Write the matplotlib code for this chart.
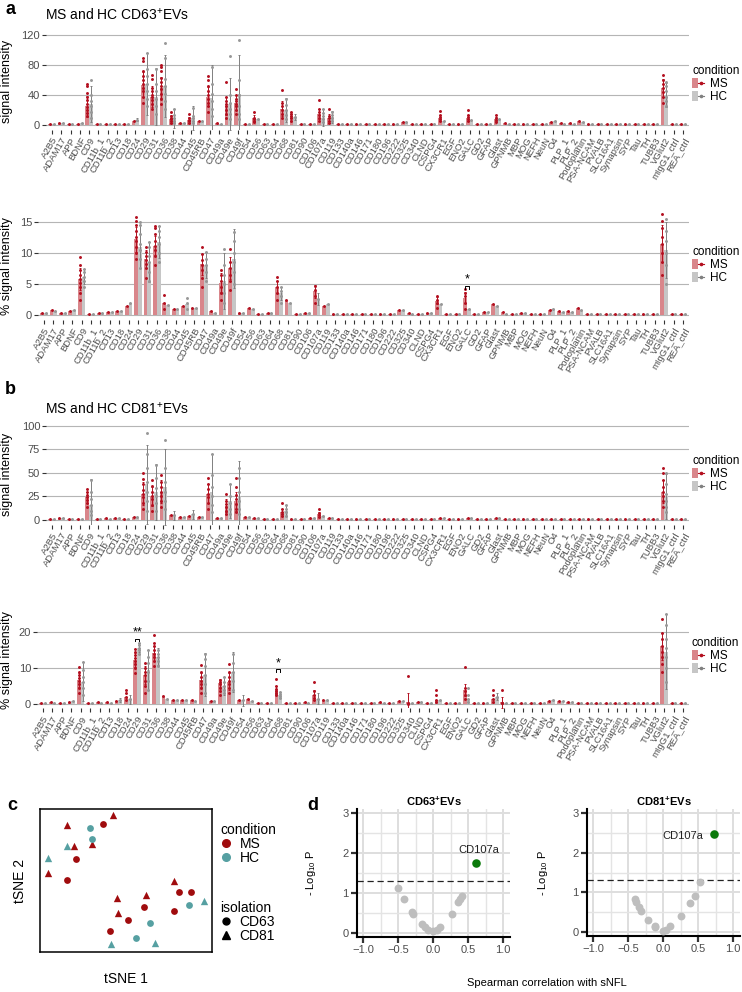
import numpy as np
import matplotlib
matplotlib.use("Agg")
import matplotlib.pyplot as plt
from matplotlib.patches import Patch
from matplotlib.lines import Line2D
from matplotlib.legend_handler import HandlerTuple
from matplotlib.ticker import MultipleLocator

plt.rcParams['font.family'] = ['Liberation Sans', 'DejaVu Sans']
plt.rcParams['mathtext.fontset'] = 'custom'
plt.rcParams['mathtext.rm'] = 'Liberation Sans'
plt.rcParams['mathtext.it'] = 'Liberation Sans:italic'
plt.rcParams['mathtext.bf'] = 'Liberation Sans:bold'

W, H = 742, 992

# ---------------- data ----------------
markers = ["A2B5", "ADAM17", "APP", "BDNF", "CD9", "CD11b_1", "CD11b_2", "CD13", "CD18", "CD24",
           "CD29", "CD31", "CD36", "CD38", "CD44", "CD45", "CD45RB", "CD47", "CD49a", "CD49e",
           "CD49f", "CD54", "CD56", "CD63", "CD64", "CD68", "CD81", "CD90", "CD106", "CD107a",
           "CD119", "CD133", "CD140a", "CD146", "CD171", "CD180", "CD196", "CD222", "CD325", "CD340",
           "CLND", "CSPG4", "CX3CR1", "EGF", "ENO2", "GALC", "GD2", "GFAP", "Glast", "GPNMB",
           "MBP", "MOG", "NEFH", "NeuN", "O4", "PLP_1", "PLP_2", "Podoplanin", "PSA-NCAM", "PVALB",
           "SLC16A1", "Synapsin", "SYP", "Tau", "TH", "TUBB3", "VGlut2", "mIgG1_ctrl", "REA_ctrl"]

# panel a, CD63+ EVs, signal intensity
a1_ms = [1, 3, 1, 2, 25, 1, 1, 2, 1, 5,
         54, 38, 50, 8, 3, 7, 5, 38, 3, 25,
         30, 1, 9, 1, 2, 22, 12, 1, 2, 15,
         9, 1, 1, 1, 1, 1, 1, 1, 4, 2,
         1, 2, 10, 1, 1, 10, 1, 2, 8, 3,
         1, 2, 1, 1, 4, 3, 3, 6, 1, 1,
         1, 1, 1, 1, 1, 1, 50, 1, 1]
a1_hc = [1, 3, 1, 3, 28, 1, 1, 2, 1, 7,
         55, 38, 52, 9, 3, 9, 5, 36, 1, 28,
         42, 1, 8, 1, 2, 20, 11, 1, 2, 10,
         11, 1, 1, 1, 1, 1, 1, 1, 4, 1,
         1, 2, 6, 1, 1, 7, 1, 2, 8, 1,
         1, 2, 1, 1, 6, 2, 2, 4, 1, 1,
         1, 1, 1, 1, 1, 1, 40, 1, 1]
a1_ms_sd = {"CD9": 14, "CD29": 17, "CD31": 14, "CD36": 14, "CD38": 5, "CD45": 4, "CD47": 13,
            "CD49e": 12, "CD49f": 10, "CD56": 4, "CD68": 10, "CD81": 3, "CD107a": 7, "CD119": 6,
            "CX3CR1": 4, "GALC": 4, "Glast": 3, "VGlut2": 12}
a1_hc_sd = {"CD9": 24, "CD24": 2, "CD29": 41, "CD31": 38, "CD36": 41, "CD38": 13, "CD45": 16,
            "CD47": 44, "CD49e": 35, "CD49f": 52, "CD68": 16, "CD81": 4, "CD107a": 11,
            "CD119": 8, "VGlut2": 16}
a1_ms_dots = {"CD9": [12, 16, 20, 24, 28, 33, 38, 43, 52, 55],
              "CD29": [30, 38, 45, 50, 55, 60, 66, 72, 85, 89],
              "CD31": [22, 28, 33, 37, 40, 45, 50, 62, 67],
              "CD36": [28, 35, 42, 48, 52, 58, 63, 72, 78, 80],
              "CD38": [3, 5, 8, 10, 12, 18],
              "CD45": [3, 5, 7, 10, 15],
              "CD47": [18, 25, 30, 35, 40, 45, 52, 60, 65],
              "CD49e": [10, 15, 20, 25, 28, 32, 38, 57],
              "CD49f": [15, 20, 25, 28, 32, 35, 40, 48],
              "CD56": [4, 6, 8, 10, 18],
              "CD68": [10, 15, 20, 25, 30, 47],
              "CD81": [6, 9, 12, 15, 17],
              "CD107a": [6, 10, 14, 18, 22, 33],
              "CD119": [3, 6, 9, 12, 22],
              "CX3CR1": [5, 8, 11, 14, 19],
              "GALC": [5, 8, 11, 14, 20],
              "Glast": [4, 7, 10, 13],
              "VGlut2": [30, 38, 44, 50, 55, 60, 67]}
a1_hc_dots = {"CD9": [10, 18, 25, 32, 40, 60],
              "CD29": [25, 35, 45, 55, 65, 75, 96],
              "CD31": [15, 25, 35, 45, 55, 75],
              "CD36": [22, 32, 42, 52, 62, 90, 109],
              "CD38": [3, 6, 9, 13, 22],
              "CD45": [3, 6, 9, 12, 23],
              "CD47": [12, 22, 32, 42, 55, 78],
              "CD49e": [8, 15, 22, 30, 40, 92],
              "CD49f": [8, 15, 25, 40, 60, 114],
              "CD68": [8, 14, 20, 27, 35],
              "CD107a": [4, 8, 12, 16, 22],
              "CD119": [5, 9, 13, 18],
              "VGlut2": [25, 32, 38, 45, 52, 58]}

# panel a, CD63+ EVs, % signal intensity
a2_ms = [0.3, 0.8, 0.4, 0.6, 5.8, 0.2, 0.3, 0.5, 0.6, 1.5,
         12.2, 9.0, 11.2, 2.0, 1.0, 1.5, 1.2, 8.2, 0.6, 5.2,
         7.6, 0.4, 1.2, 0.2, 0.3, 4.5, 2.4, 0.2, 0.4, 3.8,
         1.5, 0.2, 0.2, 0.2, 0.2, 0.2, 0.2, 0.2, 0.8, 0.3,
         0.2, 0.4, 2.3, 0.2, 0.2, 2.8, 0.2, 0.5, 1.8, 0.5,
         0.2, 0.4, 0.2, 0.2, 0.8, 0.7, 0.6, 1.1, 0.2, 0.1,
         0.1, 0.2, 0.1, 0.1, 0.1, 0.1, 11.5, 0.1, 0.1]
a2_hc = [0.3, 0.7, 0.4, 0.8, 6.2, 0.2, 0.3, 0.5, 0.6, 2.0,
         11.0, 8.6, 11.8, 1.6, 1.0, 1.8, 1.2, 8.0, 0.4, 5.5,
         9.1, 0.4, 1.0, 0.2, 0.3, 3.5, 2.0, 0.2, 0.4, 2.6,
         1.8, 0.2, 0.2, 0.2, 0.2, 0.2, 0.2, 0.2, 0.8, 0.2,
         0.2, 0.4, 1.8, 0.2, 0.2, 0.9, 0.2, 0.5, 1.5, 0.2,
         0.2, 0.4, 0.2, 0.2, 0.9, 0.5, 0.5, 0.8, 0.2, 0.1,
         0.1, 0.2, 0.1, 0.1, 0.1, 0.1, 10.5, 0.1, 0.1]
a2_ms_sd = {"CD9": 1.8, "CD29": 2.0, "CD31": 1.5, "CD36": 1.6, "CD47": 1.7, "CD49e": 1.5,
            "CD49f": 1.8, "CD68": 1.0, "CD107a": 1.0, "GALC": 0.9, "CX3CR1": 0.6, "VGlut2": 3.0}
a2_hc_sd = {"CD9": 1.2, "CD29": 3.5, "CD31": 3.2, "CD36": 2.6, "CD47": 2.1, "CD49e": 4.5,
            "CD49f": 4.7, "CD68": 1.0, "CD107a": 1.0, "VGlut2": 4.5}
a2_ms_dots = {"CD9": [2.5, 3.5, 4.5, 5.2, 5.8, 6.5, 7.2, 8.0, 9.3],
              "CD29": [9.0, 10.0, 11.0, 12.0, 12.5, 13.5, 14.5, 15.2, 15.8],
              "CD31": [6.0, 7.5, 8.2, 8.8, 9.5, 10.2, 11.0],
              "CD36": [8.0, 9.5, 10.5, 11.2, 12.0, 13.0, 14.0, 14.4],
              "CD38": [1.0, 2.0, 3.3],
              "CD47": [4.5, 6.0, 7.2, 8.0, 8.8, 9.8, 10.9],
              "CD49e": [2.5, 3.5, 4.5, 5.5, 6.5, 7.3],
              "CD49f": [4.0, 5.5, 6.5, 7.5, 8.5, 10.6],
              "CD68": [2.5, 3.5, 4.5, 5.5, 6.2],
              "CD107a": [2.0, 3.0, 4.0, 4.6],
              "CX3CR1": [1.2, 2.0, 2.5, 3.0],
              "GALC": [1.0, 2.0, 3.0, 3.6, 4.2],
              "VGlut2": [6.5, 8.5, 10.0, 11.5, 12.5, 14.0, 15.2, 16.2]}
a2_hc_dots = {"CD9": [4.5, 5.5, 6.2, 7.0, 7.4],
              "CD29": [7.5, 9.0, 10.5, 11.5, 13.0, 14.5, 15.0],
              "CD31": [5.5, 7.0, 8.5, 9.5, 11.0, 11.8],
              "CD36": [8.5, 10.0, 11.5, 12.5, 13.5, 14.4],
              "CD45": [1.0, 2.0, 2.7],
              "CD47": [5.5, 7.0, 8.0, 9.0, 10.1],
              "CD49e": [2.0, 3.5, 5.0, 6.5, 8.0, 10.6],
              "CD49f": [5.0, 7.0, 8.5, 10.0, 12.0, 13.4],
              "CD68": [2.0, 3.0, 3.8, 4.5],
              "VGlut2": [5.0, 8.0, 10.0, 12.0, 13.5, 15.5]}
a2_sig = [("GALC", "*", 4.7)]

# panel b, CD81+ EVs, signal intensity
b1_ms = [1, 2, 1, 1, 24, 1, 2, 2, 1, 3,
         28, 25, 30, 5, 3, 4, 3, 28, 2, 15,
         20, 3, 2, 1, 1, 8, 1, 1, 2, 6,
         2, 1, 1, 1, 1, 1, 1, 1, 1, 1,
         1, 1, 2, 1, 1, 2, 1, 1, 2, 1,
         1, 1, 1, 1, 1, 1, 1, 1, 1, 1,
         1, 1, 1, 1, 1, 1, 30, 1, 1]
b1_hc = [1, 2, 1, 1, 16, 1, 1, 2, 1, 3,
         38, 30, 35, 5, 3, 6, 3, 30, 2, 20,
         25, 3, 2, 1, 1, 10, 1, 1, 2, 4,
         2, 1, 1, 1, 1, 1, 1, 1, 1, 1,
         1, 1, 2, 1, 1, 2, 1, 1, 2, 1,
         1, 1, 1, 1, 1, 1, 1, 1, 1, 1,
         1, 1, 1, 1, 1, 1, 25, 1, 1]
b1_ms_sd = {"CD9": 6, "CD29": 12, "CD31": 10, "CD36": 12, "CD47": 10, "CD49e": 7, "CD49f": 10,
            "CD68": 4, "CD107a": 3, "VGlut2": 12}
b1_hc_sd = {"CD9": 28, "CD29": 42, "CD31": 30, "CD36": 40, "CD38": 5, "CD45": 5, "CD47": 40,
            "CD49e": 18, "CD49f": 38, "CD68": 6, "VGlut2": 24}
b1_ms_dots = {"CD9": [14, 18, 21, 24, 27, 30, 33],
              "CD29": [12, 18, 24, 28, 32, 38, 44, 50],
              "CD31": [10, 16, 22, 26, 30, 36, 42],
              "CD36": [14, 20, 26, 30, 35, 40, 48],
              "CD47": [12, 18, 24, 28, 33, 38, 45],
              "CD49e": [6, 10, 14, 17, 20, 28],
              "CD49f": [8, 12, 17, 22, 27, 35, 45],
              "CD68": [4, 6, 9, 12, 18],
              "CD107a": [3, 5, 7, 12],
              "VGlut2": [14, 20, 26, 30, 35, 42, 50, 55]}
b1_hc_dots = {"CD9": [5, 10, 16, 22, 30, 42],
              "CD29": [10, 20, 30, 40, 55, 70, 92],
              "CD31": [10, 18, 26, 34, 45, 58],
              "CD36": [12, 20, 30, 40, 55, 85],
              "CD47": [8, 16, 25, 35, 48, 70],
              "CD49e": [6, 12, 18, 25, 38],
              "CD49f": [6, 12, 20, 30, 45, 55],
              "CD68": [4, 8, 12, 16],
              "VGlut2": [8, 14, 20, 28, 38, 50]}

# panel b, CD81+ EVs, % signal intensity
b2_ms = [0.2, 0.5, 0.3, 0.5, 6.7, 0.2, 0.5, 0.6, 0.8, 2.0,
         12.3, 8.1, 14.1, 2.2, 1.2, 1.2, 1.0, 6.7, 0.8, 5.8,
         6.2, 1.0, 1.5, 0.3, 0.3, 3.9, 0.2, 0.2, 0.5, 2.5,
         1.0, 0.2, 0.2, 0.2, 0.2, 0.2, 0.5, 0.2, 0.8, 0.5,
         0.5, 0.3, 1.2, 0.2, 0.2, 3.9, 0.2, 0.4, 1.5, 0.5,
         0.2, 0.3, 0.2, 0.2, 0.8, 0.8, 0.6, 0.3, 0.3, 0.2,
         0.2, 0.2, 0.2, 0.2, 0.2, 0.2, 16.0, 0.2, 0.2]
b2_hc = [0.2, 0.4, 0.3, 0.7, 6.2, 0.2, 0.3, 0.4, 1.2, 1.3,
         15.7, 9.5, 13.2, 1.5, 1.2, 1.2, 0.8, 8.1, 0.8, 5.0,
         9.0, 1.0, 0.8, 0.3, 0.3, 2.5, 0.2, 0.2, 0.4, 1.5,
         1.2, 0.2, 0.2, 0.2, 0.2, 0.2, 0.4, 0.2, 0.8, 0.2,
         0.5, 0.4, 1.0, 0.2, 0.2, 1.5, 0.2, 0.4, 2.0, 0.2,
         0.2, 0.3, 0.2, 0.2, 1.0, 0.8, 0.5, 0.3, 0.3, 0.2,
         0.2, 0.2, 0.2, 0.2, 0.2, 0.2, 14.6, 0.2, 0.2]
b2_ms_sd = {"CD9": 2.0, "CD29": 2.0, "CD31": 2.5, "CD36": 2.0, "CD47": 2.0, "CD49e": 1.2,
            "CD49f": 2.3, "CD68": 1.2, "CD107a": 1.5, "CD340": 2.5, "GALC": 1.7, "GPNMB": 1.5,
            "VGlut2": 3.7}
b2_hc_sd = {"CD9": 5.5, "CD18": 0.6, "CD24": 1.2, "CD29": 1.3, "CD31": 5.5, "CD36": 2.3,
            "CD47": 6.0, "CD49e": 2.6, "CD49f": 5.6, "CD54": 1.5, "CD68": 0.8, "CD107a": 1.5,
            "Glast": 1.0, "VGlut2": 10.4}
b2_ms_dots = {"CD9": [3.0, 4.5, 5.5, 6.5, 7.2, 8.0, 9.0, 10.4],
              "CD24": [1.0, 2.0, 3.0, 4.0],
              "CD29": [8.5, 10.0, 11.0, 12.0, 12.8, 13.5, 14.5, 15.3],
              "CD31": [3.0, 5.0, 6.5, 8.0, 9.0, 10.0, 11.3],
              "CD36": [10.5, 12.0, 13.0, 14.0, 15.0, 16.0, 17.0, 19.2],
              "CD47": [3.0, 4.5, 5.5, 6.5, 7.5, 9.0, 10.9],
              "CD49e": [2.5, 3.5, 4.5, 5.5, 6.2, 6.8],
              "CD49f": [3.0, 4.5, 5.5, 6.5, 7.5, 9.0, 11.0],
              "CD68": [2.5, 3.0, 3.5, 4.2, 5.0, 7.0],
              "CD107a": [1.0, 1.8, 2.5, 3.5, 6.2],
              "CD340": [0.1, 0.2, 7.8],
              "CX3CR1": [0.5, 1.2, 2.5, 3.9],
              "GALC": [1.5, 2.5, 3.5, 4.5, 10.4],
              "Glast": [0.5, 1.5, 2.5, 3.9],
              "GPNMB": [0.2, 0.4, 3.9],
              "VGlut2": [9.0, 11.0, 13.0, 14.5, 16.0, 18.0, 19.7, 23.7]}
b2_hc_dots = {"CD9": [2.5, 4.5, 6.0, 7.5, 9.5, 11.8],
              "CD29": [14.0, 15.0, 15.7, 16.3, 17.0],
              "CD31": [4.0, 6.5, 9.0, 11.5, 13.0, 15.0],
              "CD36": [10.5, 12.0, 13.0, 14.0, 15.0],
              "CD47": [3.0, 5.5, 8.0, 10.5, 12.5, 14.0],
              "CD49e": [3.0, 4.0, 5.0, 6.0, 7.5],
              "CD49f": [4.0, 6.5, 9.0, 11.5, 14.0],
              "CD68": [1.8, 2.2, 2.8, 3.2],
              "GALC": [0.5, 1.5, 2.5, 4.4],
              "VGlut2": [6.0, 10.0, 13.0, 15.5, 18.0, 22.0, 25.0]}
b2_sig = [("CD29", "**", 18.2), ("CD68", "*", 9.6)]

# panel c, tSNE
tsne_ms_cd63_x = [-3.35, -7.45, -8.85, 8.0, 9.75, 2.65, 7.15, 0.25, -2.35]
tsne_ms_cd63_y = [8.5, 3.25, 0.1, -1.7, -1.7, -3.9, -4.55, -5.9, -7.55]
tsne_ms_cd81_x = [-8.85, -1.85, -7.75, -5.1, -11.6, 7.15, -1.25, 3.0, -1.1]
tsne_ms_cd81_y = [8.35, 9.85, 5.2, 5.45, 1.2, -0.05, -2.65, -2.15, -4.9]
tsne_hc_cd63_x = [-5.35, -5.0, 9.4, 3.6, 1.5]
tsne_hc_cd63_y = [7.85, 6.25, -3.65, -6.35, -8.6]
tsne_hc_cd81_x = [-8.85, -11.7, 11.75, -2.2, 4.3]
tsne_hc_cd81_y = [5.2, 3.45, -3.05, -9.4, -9.25]

# panel d, correlation with sNFL
d63_r = [-0.50, -0.41, -0.30, -0.28, -0.16, -0.11, -0.07, 0.00, 0.05, 0.10, 0.27, 0.36, 0.39, 0.42]
d63_p = [1.12, 0.84, 0.52, 0.48, 0.22, 0.16, 0.08, 0.04, 0.08, 0.16, 0.47, 0.78, 0.86, 0.92]
d81_r = [-0.40, -0.38, -0.34, -0.31, -0.21, -0.12, -0.11, 0.00, 0.04, 0.10, 0.25, 0.39, 0.45, 0.53]
d81_p = [0.84, 0.76, 0.64, 0.53, 0.31, 0.16, 0.13, 0.02, 0.06, 0.16, 0.41, 0.73, 0.92, 1.26]
d63_hit = ("CD107a", 0.61, 1.74)
d81_hit = ("CD107a", 0.73, 2.47)
p_cut = -np.log10(0.05)

# ---------------- style ----------------
MS_BAR = "#D9868B"
HC_BAR = "#C6C6C6"
MS_DOT = "#B30F1F"
HC_DOT = "#979797"
MS_ERR = "#B30F1F"
HC_ERR = "#808080"
MS_PT = "#A00C0E"
HC_PT = "#56A0A2"
TXT = "#4D4D4D"

fig = plt.figure(figsize=(W / 100, H / 100), dpi=100)


def px_axes(l, t, r, b):
    return fig.add_axes([l / W, 1 - b / H, (r - l) / W, (b - t) / H])


def bar_panel(box, ylim, yticks, ylabel, ms_mean, hc_mean, ms_sd, hc_sd,
              ms_dots, hc_dots, leg_top, sig=()):
    l, t, r, b = box
    ax = px_axes(l, t, r, b)
    x = np.arange(len(markers))
    ax.bar(x - 0.2, ms_mean, width=0.4, color=MS_BAR, zorder=2)
    ax.bar(x + 0.2, hc_mean, width=0.4, color=HC_BAR, zorder=2)
    for i, m in enumerate(markers):
        for off, mean, sd, dots, dc, ec in ((-0.2, ms_mean[i], ms_sd, ms_dots, MS_DOT, MS_ERR),
                                            (0.2, hc_mean[i], hc_sd, hc_dots, HC_DOT, HC_ERR)):
            if m in sd:
                ax.errorbar(i + off, mean, yerr=sd[m], fmt='none', ecolor=ec,
                            elinewidth=0.7, capsize=1.0, capthick=0.7, zorder=3)
            pts = dots.get(m, [mean])
            ax.scatter([i + off] * len(pts), pts, s=4.5, color=dc, lw=0, zorder=4)
    # significance brackets
    for m, lab, yb in sig:
        i = markers.index(m)
        hgt = (ylim[1] - ylim[0]) * 0.025
        ax.plot([i - 0.2, i - 0.2, i + 0.2, i + 0.2], [yb - hgt, yb, yb, yb - hgt],
                color="black", lw=0.7, zorder=5)
        ax.text(i, yb + hgt * 0.2, lab, ha='center', va='bottom', fontsize=9, zorder=5)
    ax.set_xlim(-0.6, len(markers) - 0.4)
    ax.set_ylim(*ylim)
    ax.set_yticks(yticks)
    ax.set_xticks(x)
    ax.set_xticklabels(markers, rotation=60, ha='right', va='top', rotation_mode='anchor',
                       fontsize=6.8, color=TXT)
    ax.tick_params(axis='x', length=3, width=0.8, color='#333333', pad=1.5)
    ax.tick_params(axis='y', length=3, width=0.8, color='#333333', labelsize=8,
                   labelcolor=TXT, pad=1.5)
    for s in ax.spines.values():
        s.set_visible(False)
    ax.grid(axis='y', color='#B5B5B5', lw=0.8)
    ax.set_axisbelow(True)
    ax.set_ylabel(ylabel, fontsize=9)
    ax.yaxis.set_label_coords((13 - l) / (r - l), 0.5)
    h_ms = (Patch(facecolor=MS_BAR, edgecolor='none'),
            Line2D([], [], color=MS_ERR, lw=0.8, marker='o', ms=1.6))
    h_hc = (Patch(facecolor=HC_BAR, edgecolor='none'),
            Line2D([], [], color=HC_ERR, lw=0.8, marker='o', ms=1.6))
    leg = ax.legend([h_ms, h_hc], ["MS", "HC"], title="condition",
                    handler_map={tuple: HandlerTuple(ndivide=None, pad=0)},
                    loc='upper left', bbox_to_anchor=((692 - l) / (r - l), (b - leg_top) / (b - t)),
                    frameon=False, fontsize=8.5, title_fontsize=8.5, handlelength=1.0,
                    handleheight=0.9, handletextpad=0.5, labelspacing=0.1,
                    borderaxespad=0, borderpad=0)
    leg._legend_box.align = 'left'
    return ax


bar_panel((46.4, 33.5, 688.6, 129.5), (-6, 122), [0, 40, 80, 120], "signal intensity",
          a1_ms, a1_hc, a1_ms_sd, a1_hc_sd, a1_ms_dots, a1_hc_dots, 65)
bar_panel((38.4, 212, 688.6, 320), (-0.8, 16.6), [0, 5, 10, 15], "% signal intensity",
          a2_ms, a2_hc, a2_ms_sd, a2_hc_sd, a2_ms_dots, a2_hc_dots, 246, a2_sig)
bar_panel((46.4, 425, 688.6, 524.7), (-5, 101), [0, 25, 50, 75, 100], "signal intensity",
          b1_ms, b1_hc, b1_ms_sd, b1_hc_sd, b1_ms_dots, b1_hc_dots, 455)
bar_panel((37.4, 612, 688.6, 708.3), (-1.2, 25.6), [0, 10, 20], "% signal intensity",
          b2_ms, b2_hc, b2_ms_sd, b2_hc_sd, b2_ms_dots, b2_hc_dots, 637, b2_sig)

fig.text(45 / W, 1 - 15 / H, "MS and HC CD63$^{+}$EVs", fontsize=10, va='center', ha='left')
fig.text(45 / W, 1 - 409 / H, "MS and HC CD81$^{+}$EVs", fontsize=10, va='center', ha='left')

# ---------------- panel c ----------------
cl, ct, cr, cb = 40, 809, 212, 952
axc = px_axes(cl, ct, cr, cb)
axc.scatter(tsne_ms_cd63_x, tsne_ms_cd63_y, s=24, marker='o', color=MS_PT, lw=0)
axc.scatter(tsne_ms_cd81_x, tsne_ms_cd81_y, s=28, marker='^', color=MS_PT, lw=0)
axc.scatter(tsne_hc_cd63_x, tsne_hc_cd63_y, s=24, marker='o', color=HC_PT, lw=0)
axc.scatter(tsne_hc_cd81_x, tsne_hc_cd81_y, s=28, marker='^', color=HC_PT, lw=0)
axc.set_xlim(-12.85, 12.9)
axc.set_ylim(-10.65, 10.7)
axc.set_xticks([])
axc.set_yticks([])
for s in axc.spines.values():
    s.set_linewidth(1.1)
axc.set_xlabel("tSNE 1", fontsize=10)
axc.xaxis.set_label_coords(0.5, (cb - 972) / (cb - ct))
axc.set_ylabel("tSNE 2", fontsize=10)
axc.yaxis.set_label_coords((27 - cl) / (cr - cl), 0.5)

cond_h = [Line2D([], [], ls='none', marker='o', ms=5.5, color=MS_PT),
          Line2D([], [], ls='none', marker='o', ms=5.5, color=HC_PT)]
leg1 = axc.legend(cond_h, ["MS", "HC"], title="condition", loc='upper left',
                  bbox_to_anchor=((220 - cl) / (cr - cl), (cb - 823) / (cb - ct)),
                  frameon=False, fontsize=10, title_fontsize=10, handlelength=0.8,
                  handletextpad=0.6, labelspacing=0.0, borderaxespad=0, borderpad=0)
leg1._legend_box.align = 'left'
axc.add_artist(leg1)
iso_h = [Line2D([], [], ls='none', marker='o', ms=5, color='black'),
         Line2D([], [], ls='none', marker='^', ms=5.5, color='black')]
leg2 = axc.legend(iso_h, ["CD63", "CD81"], title="isolation", loc='upper left',
                  bbox_to_anchor=((220 - cl) / (cr - cl), (cb - 901) / (cb - ct)),
                  frameon=False, fontsize=10, title_fontsize=10, handlelength=0.8,
                  handletextpad=0.6, labelspacing=0.0, borderaxespad=0, borderpad=0)
leg2._legend_box.align = 'left'


# ---------------- panel d ----------------
def volcano(box, r_vals, p_vals, hit, title, lab_xy, ylab_x):
    l, t, r, b = box
    ax = px_axes(l, t, r, b)
    ax.scatter(r_vals, p_vals, s=32, color="#BEBEBE", lw=0, zorder=3)
    ax.scatter([hit[1]], [hit[2]], s=38, color="#0B7A0B", lw=0, zorder=4)
    ax.text(lab_xy[0], lab_xy[1], hit[0], ha='center', va='center', fontsize=8, color='#222222')
    ax.axhline(p_cut, color='#222222', lw=0.9, ls=(0, (5, 3)), zorder=2)
    ax.set_xlim(-1.086, 1.1)
    ax.set_ylim(-0.1, 3.1)
    ax.set_xticks([-1.0, -0.5, 0.0, 0.5, 1.0])
    ax.set_xticklabels(["\u22121.0", "\u22120.5", "0.0", "0.5", "1.0"])
    ax.set_yticks([0, 1, 2, 3])
    ax.xaxis.set_minor_locator(MultipleLocator(0.25))
    ax.yaxis.set_minor_locator(MultipleLocator(0.5))
    ax.grid(which='major', color='#DEDEDE', lw=1.4)
    ax.grid(which='minor', color='#E4E4E4', lw=1.0)
    ax.set_axisbelow(True)
    ax.tick_params(which='major', length=4, width=1.6, color='#333333', labelsize=8,
                   labelcolor=TXT, pad=2)
    ax.tick_params(which='minor', length=0)
    ax.spines['top'].set_visible(False)
    ax.spines['right'].set_visible(False)
    ax.spines['left'].set_linewidth(1.5)
    ax.spines['bottom'].set_linewidth(1.5)
    ax.set_title(title, fontsize=8, fontweight='bold', pad=2)
    ax.set_ylabel("- Log$_{10}$ P", fontsize=8)
    ax.yaxis.set_label_coords((ylab_x - l) / (r - l), 0.5)
    return ax


volcano((357, 809, 510, 937), d63_r, d63_p, d63_hit, "CD63$^{\\mathbf{+}}$EVs", (0.66, 2.07), 318)
volcano((587, 809, 740, 936), d81_r, d81_p, d81_hit, "CD81$^{\\mathbf{+}}$EVs", (0.28, 2.42), 550)
fig.text(547 / W, 1 - 983 / H, "Spearman correlation with sNFL", fontsize=8, ha='center', va='center')

# panel letters
for lab, x, y in (("a", 5, 9), ("b", 5, 390), ("c", 7, 806), ("d", 307, 806)):
    fig.text(x / W, 1 - y / H, lab, fontsize=13, fontweight='bold', ha='left', va='center')

fig.savefig("out.png", dpi=100)
